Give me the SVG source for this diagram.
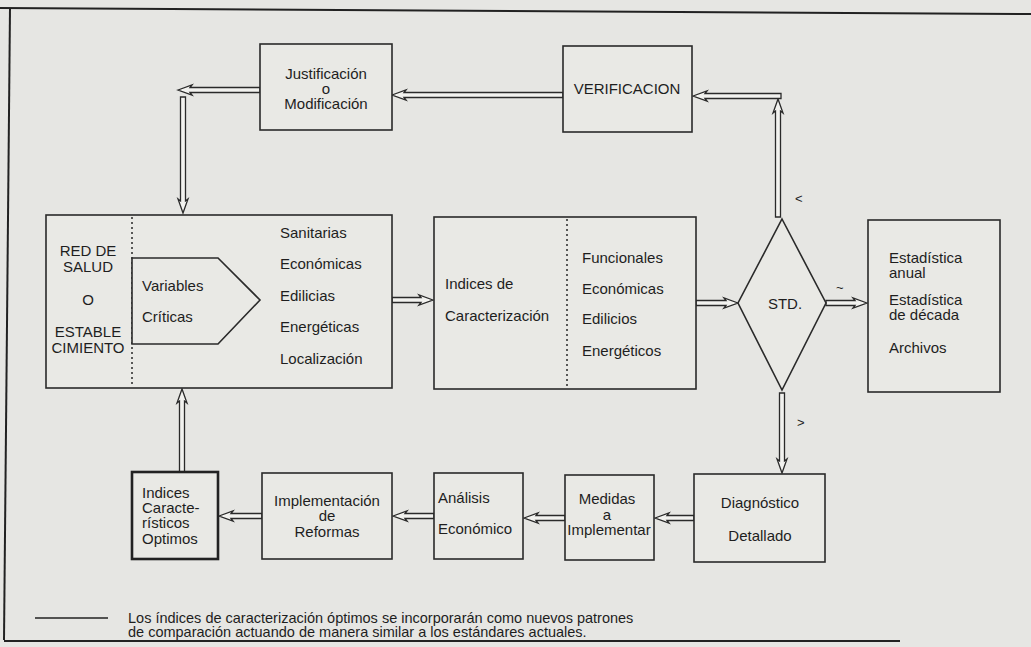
<svg xmlns="http://www.w3.org/2000/svg" width="1031" height="647" viewBox="0 0 1031 647">
<style>
.box{fill:#e9e9e5;stroke:#2a2a2a;stroke-width:1.6}
.thick{fill:#e9e9e5;stroke:#222;stroke-width:2.6}
.dot{stroke:#333;stroke-width:1.6;stroke-dasharray:2 3;fill:none}
.arr{fill:#f2f2ef;stroke:#2a2a2a;stroke-width:1.3;stroke-linejoin:miter}
.frame{stroke:#222;stroke-width:2;fill:none}
text{font-family:"Liberation Sans","DejaVu Sans",Arial,sans-serif;font-size:15px;fill:#1e1e1e}
.c{text-anchor:middle}
.sm{font-size:14.5px}
.lb{font-size:13px}
</style>
<rect width="1031" height="647" fill="#e6e6e3"/>
<g id="frame">
<path class="frame" d="M0 8 L1031 14"/>
<path class="frame" d="M10 8 L4 640"/>
<path class="frame" d="M4 641 L900 641"/>
</g>
<g id="connectors">
<polygon class="arr" points="392,95 406,90 404,92.5 563,92.5 563,97.5 404,97.5 406,100"/>
<polygon class="arr" points="178,90 192,85 190,87.5 260,87.5 260,92.5 190,92.5 192,95"/>
<polygon class="arr" points="183,213 178,199 180.5,201 180.5,97 185.5,97 185.5,201 188,199"/>
<polygon class="arr" points="778,99 773,113 775.5,111 775.5,217 780.5,217 780.5,111 783,113"/>
<polygon class="arr" points="693,96 707,91 705,93.5 781,93.5 781,98.5 705,98.5 707,101"/>
<polygon class="arr" points="433,300 419,295 421,297.5 392,297.5 392,302.5 421,302.5 419,305"/>
<polygon class="arr" points="738,303 724,298 726,300.5 696,300.5 696,305.5 726,305.5 724,308"/>
<polygon class="arr" points="867,303 853,298 855,300.5 826,300.5 826,305.5 855,305.5 853,308"/>
<polygon class="arr" points="782,473 777,459 779.5,461 779.5,393 784.5,393 784.5,461 787,459"/>
<polygon class="arr" points="655,518 669,513 667,515.5 694,515.5 694,520.5 667,520.5 669,523"/>
<polygon class="arr" points="524,518 538,513 536,515.5 565,515.5 565,520.5 536,520.5 538,523"/>
<polygon class="arr" points="393,516 407,511 405,513.5 434,513.5 434,518.5 405,518.5 407,521"/>
<polygon class="arr" points="219,516 233,511 231,513.5 262,513.5 262,518.5 231,518.5 233,521"/>
<polygon class="arr" points="182,389 177,403 179.5,401 179.5,472 184.5,472 184.5,401 187,403"/>
<text x="795" y="203" class="lb">&lt;</text>
<text x="836" y="292" class="lb">~</text>
<text x="797" y="427" class="lb">&gt;</text>
</g>
<g id="justificacion">
<rect class="box" x="260" y="44" width="132" height="86"/>
<text x="326" y="79" class="c">Justificación</text>
<text x="326" y="94" class="c">o</text>
<text x="326" y="109" class="c">Modificación</text>
</g>
<g id="verificacion">
<rect class="box" x="563" y="46" width="129" height="86"/>
<text x="627" y="94" class="c">VERIFICACION</text>
</g>
<g id="red-salud">
<rect class="box" x="46" y="215" width="346" height="173"/>
<line class="dot" x1="132" y1="217" x2="132" y2="386"/>
<polygon class="box" points="132,258 218,258 260,300 218,344 132,344"/>
<text x="88" y="256" class="c">RED DE</text>
<text x="88" y="272" class="c">SALUD</text>
<text x="88" y="305" class="c">O</text>
<text x="88" y="337" class="c">ESTABLE</text>
<text x="88" y="353" class="c">CIMIENTO</text>
<text x="142" y="291">Variables</text>
<text x="142" y="322">Críticas</text>
<text x="280" y="238">Sanitarias</text>
<text x="280" y="269">Económicas</text>
<text x="280" y="301">Edilicias</text>
<text x="280" y="332">Energéticas</text>
<text x="280" y="364">Localización</text>
</g>
<g id="indices-caracterizacion">
<rect class="box" x="434" y="217" width="262" height="172"/>
<line class="dot" x1="567" y1="219" x2="567" y2="387"/>
<text x="445" y="289">Indices  de</text>
<text x="445" y="321">Caracterización</text>
<text x="582" y="263">Funcionales</text>
<text x="582" y="294">Económicas</text>
<text x="582" y="324">Edilicios</text>
<text x="582" y="356">Energéticos</text>
</g>
<g id="std">
<polygon class="box" points="782,219 826,303 782,390 738,303"/>
<text x="785" y="309" class="c">STD.</text>
</g>
<g id="estadistica">
<rect class="box" x="868" y="220" width="132" height="172"/>
<text x="889" y="263">Estadística</text>
<text x="889" y="278">anual</text>
<text x="889" y="305">Estadística</text>
<text x="889" y="320">de década</text>
<text x="889" y="353">Archivos</text>
</g>
<g id="diagnostico">
<rect class="box" x="694" y="474" width="131" height="88"/>
<text x="760" y="508" class="c">Diagnóstico</text>
<text x="760" y="541" class="c">Detallado</text>
</g>
<g id="medidas">
<rect class="box" x="565" y="475" width="89" height="85"/>
<text x="607" y="504" class="c">Medidas</text>
<text x="607" y="520" class="c">a</text>
<text x="609" y="535" class="c">Implementar</text>
</g>
<g id="analisis">
<rect class="box" x="434" y="473" width="89" height="86"/>
<text x="438" y="503">Análisis</text>
<text x="438" y="534">Económico</text>
</g>
<g id="implementacion">
<rect class="box" x="262" y="473" width="130" height="86"/>
<text x="327" y="506" class="c">Implementación</text>
<text x="327" y="521" class="c">de</text>
<text x="327" y="537" class="c">Reformas</text>
</g>
<g id="indices-optimos">
<rect class="thick" x="132" y="472" width="86" height="87"/>
<text x="142" y="498">Indices</text>
<text x="142" y="513">Caracte-</text>
<text x="142" y="528">rísticos</text>
<text x="142" y="544">Optimos</text>
</g>
<g id="nota">
<line x1="35" y1="618" x2="108" y2="618" stroke="#222" stroke-width="1.5"/>
<text x="128" y="623" class="sm">Los índices de caracterización óptimos se incorporarán como nuevos patrones</text>
<text x="128" y="637" class="sm">de comparación actuando de manera similar a los estándares actuales.</text>
</g>
</svg>
